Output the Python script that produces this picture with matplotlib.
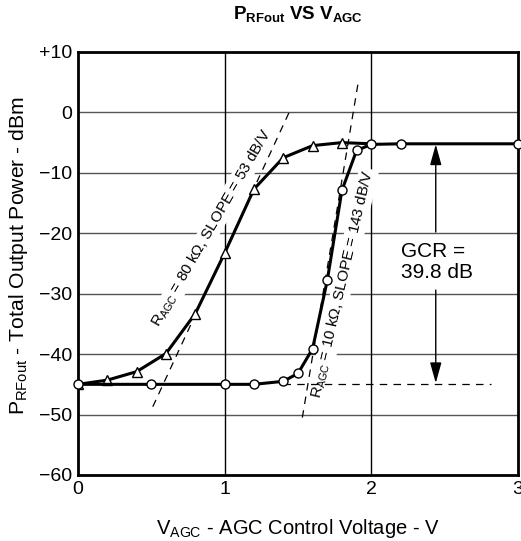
import matplotlib
matplotlib.use('Agg')
import matplotlib.pyplot as plt

plt.rcParams['font.family'] = ['Liberation Sans', 'DejaVu Sans']
plt.rcParams['mathtext.fontset'] = 'custom'
plt.rcParams['mathtext.rm'] = 'Liberation Sans'
plt.rcParams['mathtext.it'] = 'Liberation Sans'
plt.rcParams['mathtext.bf'] = 'Liberation Sans:bold'
plt.rcParams['mathtext.default'] = 'regular'

# R_AGC = 80 kohm (triangles)
v_80k = [0.0, 0.2, 0.4, 0.6, 0.8, 1.0, 1.2, 1.4, 1.6, 1.8, 2.0]
p_80k = [-45.0, -44.3, -42.9, -39.9, -33.3, -23.3, -12.7, -7.5, -5.5, -5.0, -5.2]

# R_AGC = 10 kohm (circles)
v_10k = [0.0, 0.5, 1.0, 1.2, 1.4, 1.5, 1.6, 1.7, 1.8, 1.9, 2.0, 2.2, 3.0]
p_10k = [-45.0, -45.0, -45.0, -45.0, -44.5, -43.2, -39.1, -27.8, -12.9, -6.3, -5.3, -5.2, -5.2]

# dashed slope lines
slope_80k_x = [0.51, 1.44]
slope_80k_y = [-48.7, 0.0]
slope_10k_x = [1.53, 1.91]
slope_10k_y = [-50.5, 4.8]

fig = plt.figure(figsize=(5.21, 5.41), dpi=100)
ax = fig.add_axes([0.1497, 0.122, 0.8443, 0.782])

ax.set_xlim(0, 3)
ax.set_ylim(-60, 10)
ax.set_xticks([0, 1, 2, 3])
ax.set_yticks([-60, -50, -40, -30, -20, -10, 0, 10])
ax.set_yticklabels(['\u221260', '\u221250', '\u221240', '\u221230', '\u221220', '\u221210', '0', '+10'])
ax.tick_params(length=0, labelsize=14, pad=4)
for s in ax.spines.values():
    s.set_linewidth(2)
for y in [-50, -40, -30, -20, -10, 0]:
    ax.axhline(y, color='#555555', lw=1, zorder=1)
for x in [1, 2]:
    ax.axvline(x, color='black', lw=1, zorder=1)

ax.plot(slope_80k_x, slope_80k_y, 'k--', lw=0.9, dashes=(6, 5), zorder=2)
ax.plot(slope_10k_x, slope_10k_y, 'k--', lw=0.9, dashes=(6, 5), zorder=2)
ax.plot([1.4, 2.82], [-45, -45], 'k--', lw=0.9, dashes=(6, 5), zorder=2)

ax.plot(v_80k, p_80k, color='black', lw=2.2, marker='^', ms=7, mfc='white', mec='black',
        mew=1, markevery=list(range(len(v_80k) - 1)), zorder=3)
ax.plot(v_10k, p_10k, color='black', lw=2.2, marker='o', ms=6.5, mfc='white', mec='black',
        mew=1, zorder=4, clip_on=False)

# GCR arrows
arrow = dict(arrowstyle='-|>,head_length=0.9,head_width=0.25', color='black', lw=1,
             mutation_scale=14, shrinkA=0, shrinkB=0)
ax.annotate('', xy=(2.44, -5.3), xytext=(2.44, -19.8), arrowprops=arrow)
ax.annotate('', xy=(2.44, -44.8), xytext=(2.44, -29.4), arrowprops=arrow)
ax.text(2.2, -24.8, 'GCR =\n39.8 dB', fontsize=15, ha='left', va='center', linespacing=1.15)

box = dict(facecolor='white', edgecolor='none', pad=1)
ax.text(0.91, -19.2, '$R_{AGC}$ = 80 k\u03a9, SLOPE = 53 dB/V', fontsize=11,
        rotation=60, ha='center', va='center', rotation_mode='anchor', bbox=box, zorder=1.5)
ax.text(1.805, -28.4, '$R_{AGC}$ = 10 k\u03a9, SLOPE = 143 dB/V', fontsize=11,
        rotation=77, ha='center', va='center', rotation_mode='anchor', bbox=box, zorder=1.5)

ax.set_title(r'$\mathbf{P_{RFout}}$ VS $\mathbf{V_{AGC}}$', fontsize=13.5, fontweight='bold', pad=24)
ax.set_xlabel('$V_{AGC}$ - AGC Control Voltage - V', fontsize=14.5, labelpad=14)
ax.set_ylabel('$P_{RFout}$ - Total Output Power - dBm', fontsize=15.2)
ax.yaxis.set_label_coords(-0.11, 0.518)

fig.savefig('out.png', dpi=100)
